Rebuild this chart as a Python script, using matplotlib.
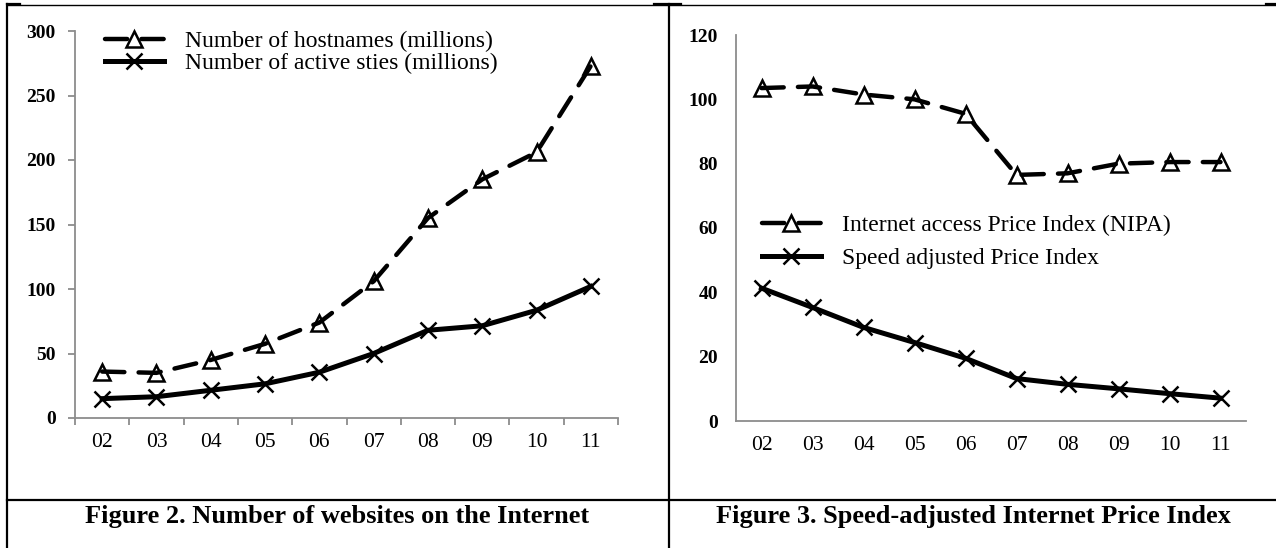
import matplotlib.pyplot as plt
from matplotlib.lines import Line2D

plt.rcParams['font.family'] = ['Liberation Serif', 'DejaVu Serif']

years = ["02", "03", "04", "05", "06", "07", "08", "09", "10", "11"]

# Figure 2 data (millions)
hostnames = [36, 35, 45, 57.5, 74, 106, 155, 185, 206, 273]
active_sites = [15, 16.5, 21.5, 26.5, 35.5, 50, 68, 71.5, 83.5, 102]

# Figure 3 data (index)
nipa_index = [103.5, 104, 101.5, 100, 95.5, 76.5, 77, 80, 80.5, 80.5]
speed_index = [41.3, 35.3, 29.1, 24.4, 19.5, 13.2, 11.4, 10, 8.5, 7.1]

W, H = 1276, 548
fig = plt.figure(figsize=(W / 100, H / 100), dpi=100)

gray = '#8c8c8c'


def style_axes(ax, ymax, ystep, ticks_on):
    for s in ["top", "right"]:
        ax.spines[s].set_visible(False)
    for s in ["left", "bottom"]:
        ax.spines[s].set_color(gray)
        ax.spines[s].set_linewidth(1.3)
    ax.set_ylim(0, ymax)
    ax.set_xlim(-0.5, len(years) - 0.5)
    ax.set_yticks(range(0, ymax + 1, ystep))
    ax.set_yticklabels([str(v) for v in range(0, ymax + 1, ystep)],
                       fontsize=14, fontweight='bold')
    ax.set_xticks(range(len(years)))
    ax.set_xticklabels(years, fontsize=15.5)
    ax.tick_params(axis='x', which='major', length=0, pad=11)
    ax.tick_params(axis='y', which='major', color=gray, width=1.3,
                   length=5 if ticks_on else 0, pad=9 if ticks_on else 13)
    if ticks_on:
        # Excel style: tick marks between categories
        ax.set_xticks([i - 0.5 for i in range(len(years) + 1)], minor=True)
        ax.tick_params(axis='x', which='minor', color=gray, width=1.3, length=5)


def draw_series(ax, dashed_vals, solid_vals, labels, legend_loc, spacing):
    ax.plot(range(len(years)), dashed_vals, color='black', lw=3.2,
            linestyle=(0, (5, 3.2)), dash_capstyle='round',
            marker='^', ms=12, mfc='none', mec='black', mew=1.8,
            label=labels[0])
    ax.plot(range(len(years)), solid_vals, color='black', lw=3.6,
            marker='x', ms=12, mec='black', mew=1.8,
            label=labels[1])
    leg = ax.legend(loc='upper left', bbox_to_anchor=legend_loc, frameon=False,
                    fontsize=17, handlelength=2.5, handletextpad=0.9,
                    labelspacing=spacing, borderpad=0, borderaxespad=0)
    return leg


# Left chart
ax1 = fig.add_axes([75 / W, 1 - 418 / H, 543 / W, 387 / H])
style_axes(ax1, 300, 50, True)
draw_series(ax1, hostnames, active_sites,
            ["Number of hostnames (millions)", "Number of active sties (millions)"],
            (0.055, 1.0), 0.0)

# Right chart
ax2 = fig.add_axes([736 / W, 1 - 421 / H, 510 / W, 386 / H])
style_axes(ax2, 120, 20, False)
draw_series(ax2, nipa_index, speed_index,
            ["Internet access Price Index (NIPA)", "Speed adjusted Price Index"],
            (0.05, 0.535), 0.5)

# table borders
def fline(x0, y0, x1, y1, lw):
    fig.add_artist(Line2D([x0 / W, x1 / W], [1 - y0 / H, 1 - y1 / H],
                          color='black', lw=lw, transform=fig.transFigure))

fline(7, 4.5, W, 4.5, 1.0)
fline(7, 3.5, 20, 3.5, 1.6)
fline(654, 3.5, 681, 3.5, 1.6)
fline(1266, 3.5, W, 3.5, 1.6)
fline(7, 3.5, 7, H, 1.6)
fline(669, 3.5, 669, H, 1.6)
fline(7, 500, W, 500, 1.6)

# captions
fig.text(337 / W, 1 - 517 / H, "Figure 2. Number of websites on the Internet",
         ha='center', va='center', fontsize=19, fontweight='bold')
fig.text(973 / W, 1 - 517 / H, "Figure 3. Speed-adjusted Internet Price Index",
         ha='center', va='center', fontsize=19, fontweight='bold')

fig.savefig("out.png", dpi=100)
